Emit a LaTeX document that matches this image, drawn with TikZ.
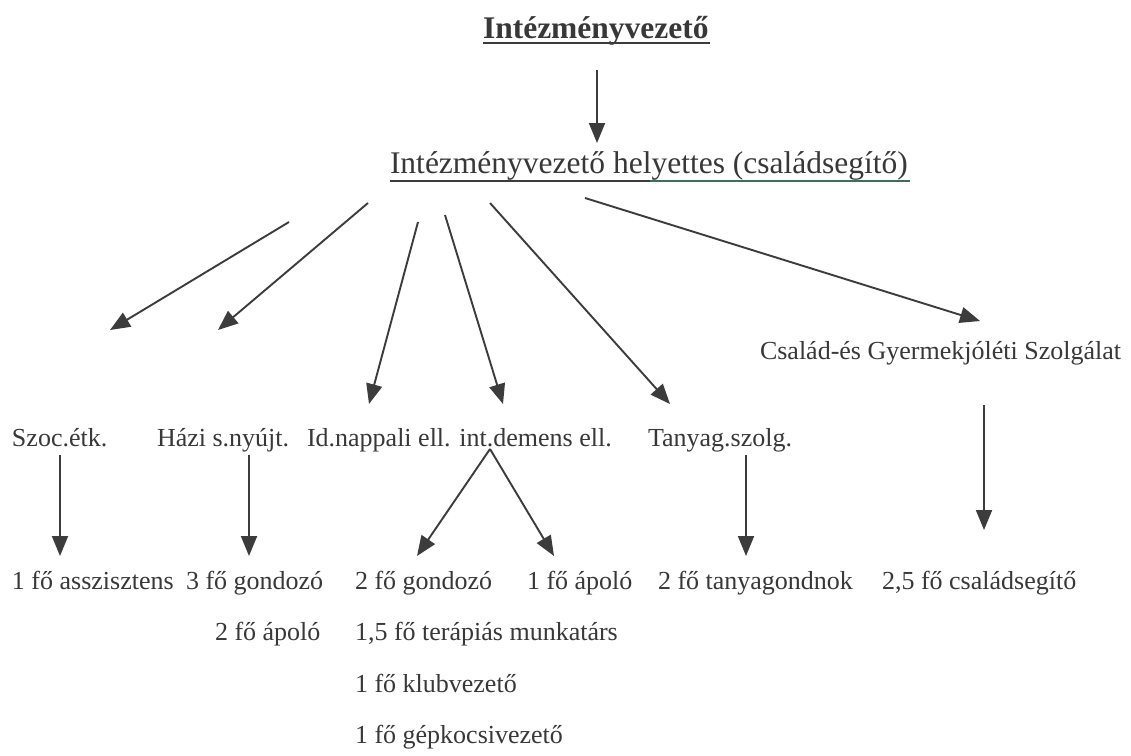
\documentclass[tikz,border=0pt]{standalone}
\usepackage{fontspec}
\setmainfont{Liberation Serif}
\usetikzlibrary{arrows.meta}
\definecolor{ink}{HTML}{383838}
\definecolor{lineink}{HTML}{3C3C3C}
\definecolor{greenline}{HTML}{3F6F5A}
\tikzset{
  lbl/.style={anchor=base west, inner sep=0pt, outer sep=0pt, text=ink, font=\fontsize{26}{30}\selectfont},
  big/.style={anchor=base west, inner sep=0pt, outer sep=0pt, text=ink, font=\fontsize{31.5}{36}\selectfont},
  conn/.style={draw=lineink, line width=1.9pt, -{Triangle[length=20pt,width=16pt]}},
}
\begin{document}
\begin{tikzpicture}[x=1pt,y=-1pt]
\useasboundingbox[fill=white] (0,0) rectangle (1131,755);
% headings
\node[big, font=\fontsize{31.5}{36}\selectfont\bfseries] (head) at (483,38) {Intézményvezető};
\draw[lineink, line width=1.8pt] (head.base west) ++(0,5) -- ++(227,0);
\node[big] (dep) at (390,173) {Intézményvezető helyettes (családsegítő)};
\draw[lineink, line width=1.6pt] (390,181) -- (650,181);
\draw[greenline, line width=1.6pt] (650,181) -- (910,181);
% first level
\node[lbl] (szoc) at (12,446) {Szoc.étk.};
\node[lbl] (hazi) at (157,446) {Házi s.nyújt.};
\node[lbl] (idn) at (307,446) {Id.nappali ell. int.demens ell.};
\node[lbl] (tany) at (648,446) {Tanyag.szolg.};
\node[lbl] (csal) at (760,359) {Család-és Gyermekjóléti Szolgálat};
% second level
\node[lbl] (asz) at (12,589) {1 fő asszisztens};
\node[lbl] (gond3) at (186,589) {3 fő gondozó};
\node[lbl] (gond2) at (355,589) {2 fő gondozó};
\node[lbl] (apol1) at (527,589) {1 fő ápoló};
\node[lbl] (tgond) at (658,589) {2 fő tanyagondnok};
\node[lbl] (csseg) at (882,589) {2,5 fő családsegítő};
\node[lbl] (apol2) at (215,640) {2 fő ápoló};
\node[lbl] (ter) at (355,640) {1,5 fő terápiás munkatárs};
\node[lbl] (klub) at (355,692) {1 fő klubvezető};
\node[lbl] (gep) at (355,743) {1 fő gépkocsivezető};
% connector end points
\coordinate (h0) at (597,70);
\coordinate (h1) at (597,143);
\coordinate (s1) at (289,222); \coordinate (t1) at (110,330);
\coordinate (s2) at (368,203); \coordinate (t2) at (218,330);
\coordinate (s3) at (418,222); \coordinate (t3) at (369,404);
\coordinate (s4) at (445,215); \coordinate (t4) at (503,404);
\coordinate (s5) at (490,203); \coordinate (t5) at (670,404);
\coordinate (s6) at (585,198); \coordinate (t6) at (980,321);
\coordinate (v1a) at (60,455); \coordinate (v1b) at (60,556);
\coordinate (v2a) at (249,455); \coordinate (v2b) at (249,556);
\coordinate (v3) at (490,449); \coordinate (v3l) at (417,556); \coordinate (v3r) at (554,556);
\coordinate (v4a) at (746,455); \coordinate (v4b) at (746,556);
\coordinate (v5a) at (984,405); \coordinate (v5b) at (984,530);
% connectors
\draw[conn] (h0) -- (h1);
\draw[conn] (s1) -- (t1);
\draw[conn] (s2) -- (t2);
\draw[conn] (s3) -- (t3);
\draw[conn] (s4) -- (t4);
\draw[conn] (s5) -- (t5);
\draw[conn] (s6) -- (t6);
\draw[conn] (v1a) -- (v1b);
\draw[conn] (v2a) -- (v2b);
\draw[conn] (v3) -- (v3l);
\draw[conn] (v3) -- (v3r);
\draw[conn] (v4a) -- (v4b);
\draw[conn] (v5a) -- (v5b);
\end{tikzpicture}
\end{document}
